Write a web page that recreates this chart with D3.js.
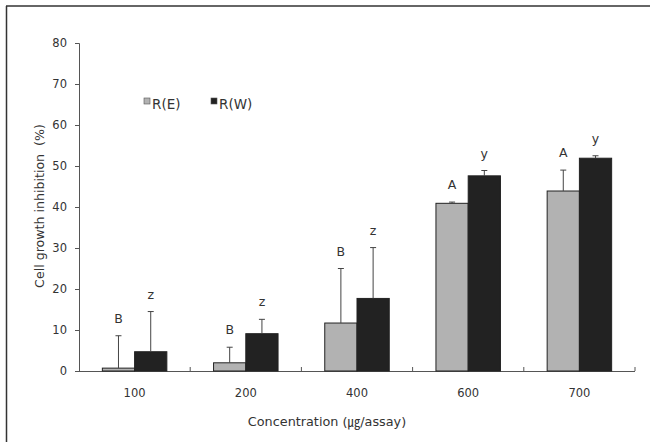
<!DOCTYPE html>
<html>
<head>
<meta charset="utf-8">
<script src="https://cdn.jsdelivr.net/npm/d3@7"></script>
<style>
  body { margin: 0; background: #fff; }
  svg { display: block; font-family: "DejaVu Sans", "Noto Sans CJK KR", sans-serif; }
</style>
</head>
<body>
<svg id="chart"></svg>
<script>
const w = 650;
const h = 442;

const concentrations = ["100", "200", "400", "600", "700"];
const seriesNames = ["R(E)", "R(W)"];
const seriesColors = ["#b2b2b2", "#222222"];
const valuesE = [0.7, 2.0, 11.7, 40.9, 43.9];
const errorsE = [7.9, 3.8, 13.3, 0.3, 5.1];
const lettersE = ["B", "B", "B", "A", "A"];
const valuesW = [4.7, 9.1, 17.7, 47.6, 51.9];
const errorsW = [9.8, 3.5, 12.4, 1.3, 0.6];
const lettersW = ["z", "z", "z", "y", "y"];
const yTicks = [0, 10, 20, 30, 40, 50, 60, 70, 80];

const textColor = "#333";

const svg = d3.select("#chart")
  .attr("width", w)
  .attr("height", h);

// frame (top and left edges only visible)
svg.append("line").attr("x1", 6).attr("y1", 6).attr("x2", w).attr("y2", 6)
  .attr("stroke", "#333").attr("stroke-width", 1.5);
svg.append("line").attr("x1", 6.5).attr("y1", 6).attr("x2", 6.5).attr("y2", h)
  .attr("stroke", "#333").attr("stroke-width", 1.5);

const plotLeft = 79, plotRight = 635, plotTop = 43, plotBottom = 371;

const x = d3.scaleBand()
  .domain(concentrations)
  .range([plotLeft, plotRight])
  .paddingInner(0.42)
  .paddingOuter(0.21);

const xs = d3.scaleBand()
  .domain(seriesNames)
  .range([0, x.bandwidth()]);

const y = d3.scaleLinear()
  .domain([0, 80])
  .range([plotBottom, plotTop]);

const rows = [];
concentrations.forEach((c, i) => {
  rows.push({ c: c, s: seriesNames[0], v: valuesE[i], e: errorsE[i], l: lettersE[i], col: seriesColors[0] });
  rows.push({ c: c, s: seriesNames[1], v: valuesW[i], e: errorsW[i], l: lettersW[i], col: seriesColors[1] });
});

// y axis
const yAxis = svg.append("g")
  .attr("transform", `translate(${plotLeft},0)`)
  .call(d3.axisLeft(y).tickValues(yTicks).tickSize(4).tickPadding(8));
yAxis.select(".domain").attr("stroke", "#555");
yAxis.selectAll(".tick line").attr("stroke", "#555");
yAxis.selectAll("text")
  .attr("font-size", 11.5)
  .attr("fill", textColor)
  .attr("font-family", "DejaVu Sans, sans-serif");

// x axis: ticks at category boundaries
const bounds = concentrations.map((c, i) => plotLeft + (plotRight - plotLeft) / concentrations.length * (i + 1));
const xAxisG = svg.append("g");
xAxisG.append("line")
  .attr("x1", plotLeft).attr("x2", plotRight)
  .attr("y1", plotBottom + 0.5).attr("y2", plotBottom + 0.5)
  .attr("stroke", "#555");
xAxisG.selectAll("line.tk")
  .data(bounds)
  .enter()
  .append("line")
  .attr("class", "tk")
  .attr("x1", d => d).attr("x2", d => d)
  .attr("y1", plotBottom).attr("y2", plotBottom - 4)
  .attr("stroke", "#555");
xAxisG.selectAll("text")
  .data(concentrations)
  .enter()
  .append("text")
  .attr("x", d => x(d) + x.bandwidth() / 2)
  .attr("y", 397)
  .attr("text-anchor", "middle")
  .attr("font-size", 11.5)
  .attr("fill", textColor)
  .text(d => d);

// bars
svg.append("g")
  .selectAll("rect")
  .data(rows)
  .enter()
  .append("rect")
  .attr("x", d => x(d.c) + xs(d.s))
  .attr("y", d => y(d.v))
  .attr("width", xs.bandwidth())
  .attr("height", d => y(0) - y(d.v))
  .attr("fill", d => d.col)
  .attr("stroke", "#222")
  .attr("stroke-width", 1);

// error bars (upper only)
const err = svg.append("g")
  .selectAll("g")
  .data(rows)
  .enter()
  .append("g")
  .attr("stroke", "#444")
  .attr("stroke-width", 1);
err.append("line")
  .attr("x1", d => x(d.c) + xs(d.s) + xs.bandwidth() / 2)
  .attr("x2", d => x(d.c) + xs(d.s) + xs.bandwidth() / 2)
  .attr("y1", d => y(d.v))
  .attr("y2", d => y(d.v + d.e));
err.append("line")
  .attr("x1", d => x(d.c) + xs(d.s) + xs.bandwidth() / 2 - 3)
  .attr("x2", d => x(d.c) + xs(d.s) + xs.bandwidth() / 2 + 3)
  .attr("y1", d => y(d.v + d.e))
  .attr("y2", d => y(d.v + d.e));

// significance letters
svg.append("g")
  .selectAll("text")
  .data(rows)
  .enter()
  .append("text")
  .attr("x", d => x(d.c) + xs(d.s) + xs.bandwidth() / 2)
  .attr("y", d => y(d.v + d.e) - 13)
  .attr("text-anchor", "middle")
  .attr("font-size", 12.5)
  .attr("fill", textColor)
  .text(d => d.l);

// legend
const legend = svg.append("g")
  .selectAll("g")
  .data(seriesNames)
  .enter()
  .append("g")
  .attr("transform", (d, i) => `translate(${144 + i * 67},98)`);
legend.append("rect")
  .attr("width", 6).attr("height", 6)
  .attr("fill", (d, i) => seriesColors[i])
  .attr("stroke", "#555")
  .attr("stroke-width", 0.6);
legend.append("text")
  .attr("x", 8)
  .attr("y", 11)
  .attr("font-size", 13.5)
  .attr("fill", textColor)
  .text(d => d);

// axis titles
svg.append("text")
  .attr("transform", "translate(44,206) rotate(-90)")
  .attr("text-anchor", "middle")
  .attr("font-size", 12.6)
  .attr("fill", textColor)
  .style("white-space", "pre")
  .text("Cell growth inhibition  (%)");

svg.append("text")
  .attr("x", 327)
  .attr("y", 426)
  .attr("text-anchor", "middle")
  .attr("font-size", 12.8)
  .attr("fill", textColor)
  .text("Concentration (㎍/assay)");
</script>
</body>
</html>
